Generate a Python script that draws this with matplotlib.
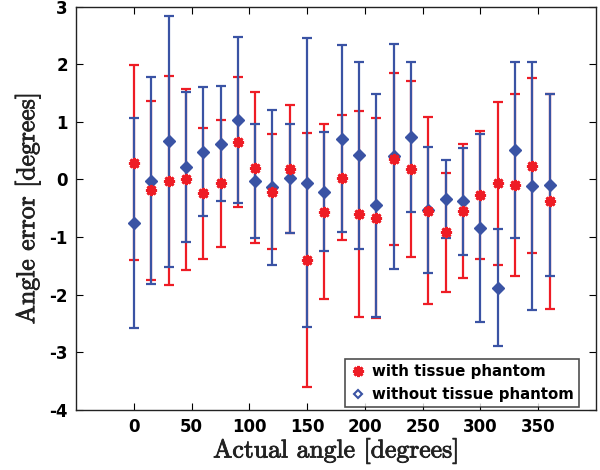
import matplotlib
matplotlib.use("Agg")
import matplotlib.pyplot as plt
import matplotlib.patheffects as pe
from matplotlib.lines import Line2D

angles = [0, 15, 30, 45, 60, 75, 90, 105, 120, 135, 150, 165, 180,
          195, 210, 225, 240, 255, 270, 285, 300, 315, 330, 345, 360]

with_mean = [0.29, -0.19, -0.02, 0.0, -0.24, -0.07, 0.65, 0.20, -0.21, 0.18, -1.40, -0.56, 0.03,
             -0.60, -0.67, 0.35, 0.18, -0.54, -0.92, -0.55, -0.27, -0.07, -0.09, 0.24, -0.38]
with_err = [1.69, 1.55, 1.81, 1.57, 1.14, 1.10, 1.13, 1.31, 1.00, 1.11, 2.20, 1.52, 1.09,
            1.78, 1.74, 1.49, 1.52, 1.63, 1.03, 1.16, 1.11, 1.41, 1.58, 1.52, 1.87]

without_mean = [-0.76, -0.02, 0.66, 0.21, 0.48, 0.62, 1.03, -0.02, -0.14, 0.02, -0.06, -0.21, 0.71,
                0.42, -0.45, 0.40, 0.73, -0.53, -0.34, -0.38, -0.84, -1.88, 0.51, -0.12, -0.09]
without_err = [1.82, 1.79, 2.18, 1.30, 1.12, 1.00, 1.44, 0.99, 1.35, 0.95, 2.51, 1.04, 1.62,
               1.62, 1.93, 1.95, 1.30, 1.10, 0.67, 0.93, 1.63, 1.02, 1.53, 2.15, 1.58]

xticks = [0, 50, 100, 150, 200, 250, 300, 350]
yticks = [-4, -3, -2, -1, 0, 1, 2, 3]

RED = '#ee1c25'
BLUE = '#3a53a4'

fig = plt.figure(figsize=(6.0, 4.7), dpi=100)
ax = fig.add_axes([0.127, 0.128, 0.866, 0.858])

ax.errorbar(angles, with_mean, yerr=with_err, fmt='none', ecolor=RED,
            elinewidth=1.6, capsize=3.3, capthick=1.6, zorder=2)
ax.errorbar(angles, without_mean, yerr=without_err, fmt='none', ecolor=BLUE,
            elinewidth=1.6, capsize=3.3, capthick=1.6, zorder=3)
ax.plot(angles, without_mean, linestyle='none', marker='D', markersize=5.8,
        color=BLUE, zorder=4)
ax.plot(angles, with_mean, linestyle='none', marker=(8, 2, 0), markersize=8,
        markeredgewidth=2.0, color=RED, zorder=5)

ax.set_xlim(-50, 400)
ax.set_ylim(-4, 3)
ax.set_xticks(xticks)
ax.set_yticks(yticks)
tick_font = dict(family='DejaVu Sans', weight='bold', size=12)
ax.set_xticklabels([str(v) for v in xticks], fontdict=tick_font)
ax.set_yticklabels([str(v) for v in yticks], fontdict=tick_font)
ax.tick_params(direction='in', length=5, width=0.8, top=True, right=True, pad=6)
for s in ax.spines.values():
    s.set_linewidth(1.0)
    s.set_color('#222222')

stroke = [pe.withStroke(linewidth=0.6, foreground='#222222')]
xl = ax.set_xlabel('Actual angle [degrees]', family='cmr10', size=18.5, labelpad=1,
                   color='#222222')
yl = ax.set_ylabel('Angle error [degrees]', family='cmr10', size=18.5, labelpad=6,
                   color='#222222')
xl.set_path_effects(stroke)
yl.set_path_effects(stroke)

handles = [
    Line2D([], [], linestyle='none', marker=(8, 2, 0), markersize=8,
           markeredgewidth=2.0, color=RED),
    Line2D([], [], linestyle='none', marker='D', markersize=4.5,
           markerfacecolor='white', markeredgecolor=BLUE, markeredgewidth=1.5),
]
leg = ax.legend(handles, ['with tissue phantom', 'without tissue phantom'],
                loc='lower right', bbox_to_anchor=(0.967, 0.006),
                prop=dict(family='DejaVu Sans', weight='bold', size=10.8),
                frameon=True, fancybox=False, edgecolor='#222222', handlelength=1.0,
                handletextpad=0.4, borderpad=0.35, labelspacing=0.55,
                borderaxespad=0.0)
leg.get_frame().set_linewidth(1.2)

fig.savefig('out.png', dpi=100)
